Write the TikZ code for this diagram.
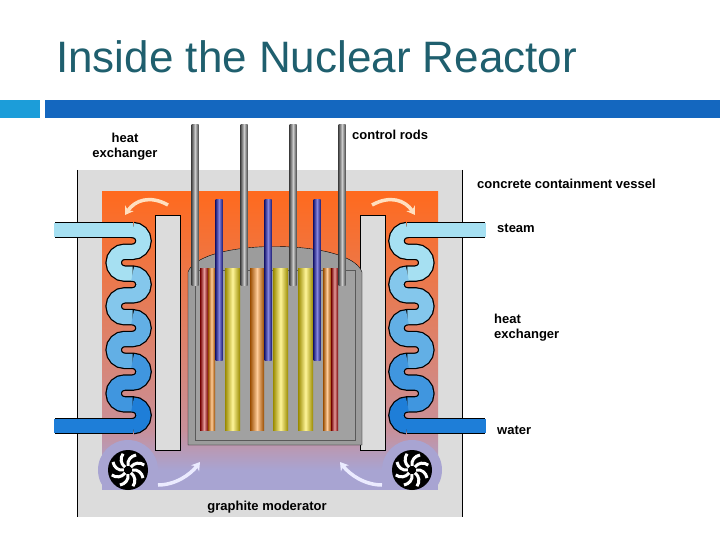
\documentclass[tikz,border=0pt]{standalone}
\usepackage{fontspec}
\setmainfont{Liberation Sans}
\usetikzlibrary{arrows.meta}
\definecolor{ttl}{HTML}{1F5F6E}
\definecolor{barA}{HTML}{1C9DD9}
\definecolor{barB}{HTML}{1467BF}
\definecolor{vessel}{HTML}{DCDCDC}
\definecolor{orng}{HTML}{FF6A1E}
\definecolor{pinkm}{HTML}{C8909A}
\definecolor{lav}{HTML}{A8A4D2}
\definecolor{coreg}{HTML}{9C9C9C}
\definecolor{crod}{HTML}{3434C8}
\definecolor{pipeT}{HTML}{A6E0F2}
\definecolor{pipeB}{HTML}{1E7ED8}
\tikzset{
  lbl/.style={font=\bfseries\fontsize{13}{15}\selectfont, inner sep=0pt, align=left},
  arr/.style={line width=3.5pt, -{Stealth[length=8pt,width=10pt]}},
  pout/.style={line width=16.5pt, black},
  pin/.style={line width=14pt},
}
\begin{document}
\begin{tikzpicture}[x=1pt,y=-1pt]
\useasboundingbox (0,0) rectangle (720,540);
\fill[white] (0,0) rectangle (720,540);
% title & bars
\node[anchor=base west, inner sep=0pt, text=ttl, font=\fontsize{44}{48}\selectfont] (title) at (56,73) {Inside the Nuclear Reactor};
\fill[barA] (0,100) rectangle (40,118);
\fill[barB] (45,100) rectangle (720,118);
% vessel
\fill[vessel] (77,170) rectangle (462,517);
\draw[black,line width=1pt] (77,170) -- (77,517) (462,170) -- (462,517);
% hot region
\shade[top color=orng, bottom color=pinkm] (102,192) rectangle (438,430);
\shade[top color=pinkm, bottom color=lav] (102,430) rectangle (438,470);
\fill[lav] (102,470) rectangle (438,490);
\fill[lav] (128,470) circle (30) (412,470) circle (30);
\fill[vessel] (102,490) rectangle (438,517);
% baffles
\draw[fill=vessel] (155,215) rectangle (180,450);
\draw[fill=vessel] (360,215) rectangle (385,450);
% core
\draw[fill=coreg] (188,445) -- (188,272) .. controls (200,238) and (350,238) .. (362,272) -- (362,445) -- cycle;
\draw[draw=gray!70!black, fill=coreg!95!white] (195,440) rectangle (355,270);
% fuel rods
\foreach \xa/\xb/\c in {200/208/red!75!black, 208/215/orange, 225/240/yellow!80!orange, 250/264/orange, 273/288/yellow!80!orange, 298/313/yellow!80!orange, 323/331/orange, 331/338/red!75!black}{
  \shade[left color=\c!60!black, right color=\c!60!black, middle color=\c!40!white] (\xa,268) rectangle (\xb,430);
}
% blue rods
\foreach \x in {219,268,317}{
  \shade[left color=crod!60!black, right color=crod!60!black, middle color=crod!60!white] (\x-3.5,200) rectangle (\x+3.5,360);
}
% gray control rods
\foreach \x in {195,244,293,342}{
  \shade[left color=gray!60!black, right color=gray!60!black, middle color=gray!40!white] (\x-3.5,125) rectangle (\x+3.5,285);
}
% heat exchangers
\foreach \cx/\dir/\ex in {130/1/55, 410/-1/485}{
  \begin{scope}[shift={(\cx,0)}, xscale=\dir]
    \draw[pout] (2.6,230) -- (\dir*\ex-\dir*\cx,230) (2.6,426.2) -- (\dir*\ex-\dir*\cx,426.2);
    \draw[pout] (2.6,230) \foreach \k in {1,...,4}{ arc(-90:90:10.9) -- ++(-8,0) arc(270:90:10.9) -- ++(8,0)} arc(-90:90:10.9);
    \draw[pin, pipeT] (2.6,230) -- (\dir*\ex-\dir*\cx-1,230);
    \draw[pin, pipeB] (2.6,426.2) -- (\dir*\ex-\dir*\cx-1,426.2);
    \foreach \k/\cc in {0/pipeT, 1/pipeT!75!pipeB, 2/pipeT!50!pipeB, 3/pipeT!25!pipeB}{
      \draw[pin, \cc] (2.6,230+43.6*\k) arc(-90:90:10.9) -- ++(-8,0) arc(270:90:10.9) -- ++(8,0);
    }
    \draw[pin, pipeB] (2.6,404.4) arc(-90:90:10.9);
  \end{scope}
}
% fans
\foreach \fx in {128,412}{
  \begin{scope}[shift={(\fx,470)}]
    \fill[black] (0,0) circle (20);
    \foreach \a in {0,45,...,315}{
      \draw[white, line width=3pt, rotate=\a] (4,0) .. controls (10,-1) and (14,3) .. (15,8);
    }
    \fill[black] (0,0) circle (4);
  \end{scope}
}
% flow arrows
\draw[arr, orange!25!white] (168,205) .. controls (150,195) and (135,200) .. (125,215);
\draw[arr, orange!25!white] (372,205) .. controls (390,195) and (405,200) .. (415,215);
\draw[arr, blue!8!white] (158,485) .. controls (175,485) and (190,475) .. (200,462);
\draw[arr, blue!8!white] (382,485) .. controls (365,485) and (350,475) .. (340,462);
% labels
\node[lbl, align=center] (hx1) at (125,147) {heat\\exchanger};
\node[lbl, anchor=west] (cr) at (352,135) {control rods};
\node[lbl, anchor=west] (cv) at (477,184) {concrete containment vessel};
\node[lbl, anchor=west] (st) at (497,228) {steam};
\node[lbl, anchor=west] (hx2) at (494,328) {heat\\exchanger};
\node[lbl, anchor=west] (wt) at (497,430) {water};
\node[lbl] (gm) at (267,507) {graphite moderator};
\end{tikzpicture}
\end{document}
